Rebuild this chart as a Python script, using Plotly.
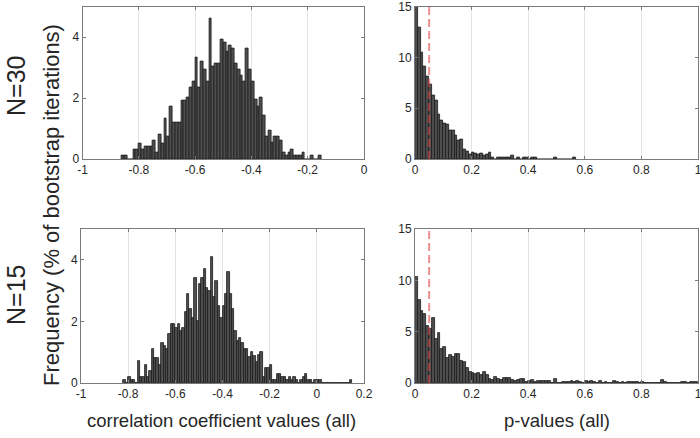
import plotly.graph_objects as go

BIN_WIDTH = 0.01

# Correlation coefficient histograms (% of bootstrap iterations), bin left edges start
r30_start = -0.86
r30_vals = [0.11, 0.11, 0, 0, 0.30, 0.30, 0.50, 0.32, 0.42, 0.42,
            0.42, 0.61, 0.22, 0.81, 0.52, 1.32, 0.73, 1.72, 1.20, 1.20,
            1.20, 1.93, 1.93, 2.02, 2.33, 2.53, 3.32, 2.33, 3.21, 2.92,
            2.53, 4.62, 3.02, 3.13, 3.13, 3.92, 3.82, 3.52, 3.72, 3.61,
            3.12, 2.92, 2.73, 2.53, 3.61, 2.92, 2.53, 1.94, 1.73, 2.02,
            1.43, 0.73, 0.92, 0.53, 0.73, 0.73, 0.62, 0.21, 0.11, 0.21,
            0.30, 0.11, 0.11, 0.11, 0.21, 0, 0, 0.11, 0, 0, 0.11]

r15_start = -0.82
r15_vals = [0.10, 0, 0.19, 0.10, 0.10, 0, 0.70, 0.19, 0.19, 0.60,
            0.19, 0.40, 1.09, 0.80, 0.80, 0.60, 1.30, 1.19, 1.09, 1.60,
            1.90, 1.90, 1.80, 1.90, 1.70, 1.80, 2.30, 2.90, 2.40, 2.10,
            3.40, 2.00, 3.20, 3.40, 3.70, 3.10, 3.00, 4.10, 2.80, 3.30,
            2.50, 2.10, 2.50, 2.90, 3.60, 2.90, 2.40, 1.70, 1.35, 1.45,
            1.30, 1.10, 1.10, 0.85, 1.00, 0.88, 0.67, 0.90, 1.00, 0.20,
            0.48, 0.48, 0.58, 0.10, 0.10, 0.29, 0.29, 0.20, 0.20, 0.10,
            0.20, 0.10, 0.20, 0.10, 0, 0.10, 0.19, 0.30, 0.10, 0.10,
            0, 0.10, 0.10, 0.10, 0, 0, 0, 0, 0, 0,
            0, 0, 0, 0, 0, 0, 0.10]

# p-value histograms
p30_start = 0.0
p30_vals = [15.0, 12.97, 10.5, 9.05, 8.14, 7.3, 6.27, 5.78, 4.38, 3.82,
            3.5, 3.43, 2.84, 2.84, 2.35, 1.8, 1.93, 0.95, 0.72, 0.49,
            0.62, 0.56, 0.49, 0.56, 0.39, 0.46, 0.62, 0.16, 0, 0.16,
            0.16, 0.16, 0.16, 0.16, 0.33, 0, 0.1, 0, 0.1, 0.16,
            0, 0.16, 0.16, 0, 0, 0, 0, 0, 0, 0.1,
            0, 0, 0, 0, 0, 0, 0.16]

p15_start = 0.0
p15_vals = [10.28, 8.04, 7.03, 6.74, 5.56, 5.3, 6.31, 4.26, 4.91, 3.29,
            3.55, 2.41, 2.70, 2.57, 2.80, 2.80, 2.18, 2.08, 1.5, 1.07,
            1.0, 0.88, 0.94, 0.75, 1.07, 0.75, 0.42, 0.29, 0.62, 0.36,
            0.29, 0.49, 0.49, 0.49, 0.29, 0.16, 0.29, 0.42, 0.42, 0.1,
            0.16, 0.29, 0.1, 0.16, 0.23, 0.23, 0.23, 0.16, 0, 0.42,
            0, 0, 0.1, 0.1, 0.1, 0.16, 0.1, 0.23, 0.1, 0,
            0.23, 0.1, 0.16, 0.1, 0, 0.16, 0, 0.1, 0, 0,
            0.16, 0.1, 0, 0.1, 0, 0.1, 0.1, 0.1, 0.1, 0,
            0.1, 0, 0, 0, 0, 0, 0, 0.29, 0.1, 0,
            0, 0, 0, 0, 0.1, 0.1, 0, 0.1, 0.1, 0.1]

ALPHA = 0.05

r_ticks_top = [-1, -0.8, -0.6, -0.4, -0.2, 0]
r_ticklabels_top = ["-1", "-0.8", "-0.6", "-0.4", "-0.2", "0"]
r_ticks_bot = [-1, -0.8, -0.6, -0.4, -0.2, 0, 0.2]
r_ticklabels_bot = ["-1", "-0.8", "-0.6", "-0.4", "-0.2", "0", "0.2"]
p_ticks = [0, 0.2, 0.4, 0.6, 0.8, 1]
p_ticklabels = ["0", "0.2", "0.4", "0.6", "0.8", "1"]
r_yticks = [0, 2, 4]
p_yticks = [0, 5, 10, 15]

row_labels = ["N=30", "N=15"]
x_titles = ["correlation coefficient values (all)", "p-values (all)"]
y_title = "Frequency (% of bootstrap iterations)"

FONT = "Liberation Sans, Arial, sans-serif"
TXT = "#262626"
AX = "#7a7a7a"
BAR_FILL = "#4f4f4f"
BAR_EDGE = "#1c1c1c"

W, H = 700, 438


def centers(start, vals):
    return [start + (i + 0.5) * BIN_WIDTH for i in range(len(vals))]


fig = go.Figure()

panels = [
    (r30_start, r30_vals, "x", "y"),
    (p30_start, p30_vals, "x2", "y2"),
    (r15_start, r15_vals, "x3", "y3"),
    (p15_start, p15_vals, "x4", "y4"),
]
for start, vals, xa, ya in panels:
    fig.add_trace(go.Bar(
        x=centers(start, vals), y=vals, width=BIN_WIDTH,
        marker=dict(color=BAR_FILL, line=dict(color=BAR_EDGE, width=0.8)),
        xaxis=xa, yaxis=ya, showlegend=False, hoverinfo="skip"))

for xa, ya, ytop in [("x2", "y2", 15), ("x4", "y4", 15)]:
    fig.add_trace(go.Scatter(
        x=[ALPHA, ALPHA], y=[0, ytop], mode="lines",
        line=dict(color="rgba(225,70,70,0.6)", width=2, dash="8px,4px"),
        xaxis=xa, yaxis=ya, showlegend=False, hoverinfo="skip"))


def px_x(a, b):
    return [a / W, b / W]


def px_y(top, bottom):
    return [1 - bottom / H, 1 - top / H]


common_x = dict(showline=True, linecolor=AX, linewidth=1, mirror="ticks",
                ticks="inside", ticklen=3, tickcolor=AX, showgrid=True,
                gridcolor="#e3e3e3", gridwidth=1, zeroline=False,
                ticklabeloverflow="allow",
                tickfont=dict(family=FONT, size=12, color=TXT), fixedrange=True)
common_y = dict(showline=True, linecolor=AX, linewidth=1, mirror="ticks",
                ticks="inside", ticklen=3, tickcolor=AX, showgrid=False,
                zeroline=False, ticklabeloverflow="allow",
                tickfont=dict(family=FONT, size=12, color=TXT),
                fixedrange=True)

top_y = px_y(6.5, 159)
bot_y = px_y(229, 383)

fig.update_layout(
    width=W, height=H, margin=dict(l=0, r=0, t=0, b=0, autoexpand=False),
    paper_bgcolor="white", plot_bgcolor="white", bargap=0,
    font=dict(family=FONT, color=TXT),
    xaxis=dict(common_x, domain=px_x(82.5, 364), range=[-1, 0], anchor="y",
               tickvals=r_ticks_top, ticktext=r_ticklabels_top),
    yaxis=dict(common_y, domain=top_y, range=[0, 5], anchor="x",
               tickvals=r_yticks, ticktext=[str(v) for v in r_yticks]),
    xaxis2=dict(common_x, domain=px_x(415, 698), range=[0, 1], anchor="y2",
                tickvals=p_ticks, ticktext=p_ticklabels),
    yaxis2=dict(common_y, domain=top_y, range=[0, 15], anchor="x2",
                tickvals=p_yticks, ticktext=[str(v) for v in p_yticks]),
    xaxis3=dict(common_x, domain=px_x(81, 364), range=[-1, 0.2], anchor="y3",
                tickvals=r_ticks_bot, ticktext=r_ticklabels_bot),
    yaxis3=dict(common_y, domain=bot_y, range=[0, 5], anchor="x3",
                tickvals=r_yticks, ticktext=[str(v) for v in r_yticks]),
    xaxis4=dict(common_x, domain=px_x(415, 698), range=[0, 1], anchor="y4",
                tickvals=p_ticks, ticktext=p_ticklabels),
    yaxis4=dict(common_y, domain=bot_y, range=[0, 15], anchor="x4",
                tickvals=p_yticks, ticktext=[str(v) for v in p_yticks]),
)

ann = []
# Row labels
for label, yc in zip(row_labels, [86, 295]):
    ann.append(dict(text=label, x=16 / W, y=1 - yc / H, xref="paper", yref="paper",
                    showarrow=False, textangle=-90, xanchor="center", yanchor="middle",
                    font=dict(family=FONT, size=25, color=TXT)))
# Shared y title
ann.append(dict(text=y_title, x=52 / W, y=1 - 205 / H, xref="paper", yref="paper",
                showarrow=False, textangle=-90, xanchor="center", yanchor="middle",
                font=dict(family=FONT, size=22, color=TXT)))
# x titles
for t, xc in zip(x_titles, [222, 557]):
    ann.append(dict(text=t, x=xc / W, y=1 - 420 / H, xref="paper", yref="paper",
                    showarrow=False, xanchor="center", yanchor="middle",
                    font=dict(family=FONT, size=18.5, color=TXT)))
fig.update_layout(annotations=ann)

fig.write_html(
    "out.html",
    config={"displayModeBar": False},
    post_script="document.body.style.margin='0';document.body.style.padding='0';",
)
